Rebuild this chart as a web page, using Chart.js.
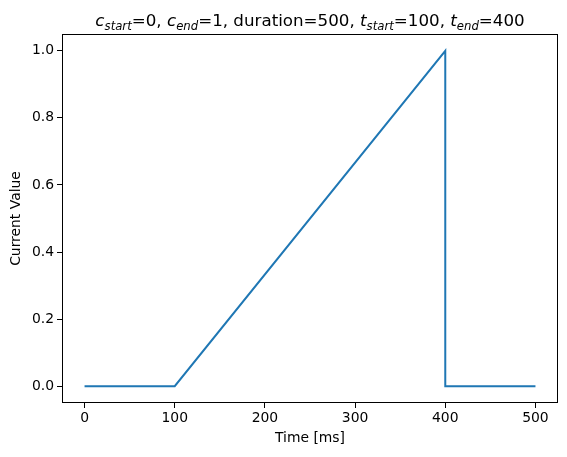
<!DOCTYPE html>
<html><head><meta charset="utf-8">
<script src="https://cdn.jsdelivr.net/npm/chart.js@4/dist/chart.umd.min.js"></script>
<style>html,body{margin:0;padding:0;background:#fff}#wrap{width:567px;height:457px}</style>
</head><body><div id="wrap"><canvas id="c" width="567" height="457"></canvas></div>
<script>
const timeValues = [0, 100, 400, 400, 500];
const currentValues = [0, 0, 1, 0, 0];
const xTicks = [0, 100, 200, 300, 400, 500];
const yTicks = [0.0, 0.2, 0.4, 0.6, 0.8, 1.0];
const titleParts = [
  ['c','i'],['start','s'],['=0, ','n'],['c','i'],['end','s'],['=1, duration=500, ','n'],
  ['t','i'],['start','s'],['=100, ','n'],['t','i'],['end','s'],['=400','n']
];
const FONT = '"DejaVu Sans", sans-serif';

const framePlugin = {
  id: 'frame',
  afterDraw(chart) {
    const {ctx, chartArea: a} = chart;
    ctx.save();
    ctx.strokeStyle = '#000'; ctx.lineWidth = 1;
    ctx.strokeRect(Math.round(a.left)+0.5, Math.round(a.top)+0.5, Math.round(a.right-a.left)-1, Math.round(a.bottom-a.top)-1);
    const big = 16.7, small = 11.7;
    const fontFor = k => k==='n' ? `${big}px ${FONT}` : (k==='i' ? `italic ${big}px ${FONT}` : `italic ${small}px ${FONT}`);
    let w = 0;
    for (const [t,k] of titleParts) { ctx.font = fontFor(k); w += ctx.measureText(t).width; }
    let x = (a.left + a.right)/2 - w/2;
    const base = 26;
    ctx.fillStyle = '#000'; ctx.textBaseline = 'alphabetic'; ctx.textAlign = 'left';
    for (const [t,k] of titleParts) {
      ctx.font = fontFor(k);
      ctx.fillText(t, x, k==='s' ? base+3.5 : base);
      x += ctx.measureText(t).width;
    }
    ctx.restore();
  }
};

new Chart(document.getElementById('c'), {
  type: 'line',
  data: { datasets: [{
    data: timeValues.map((t,i)=>({x:t, y:currentValues[i]})),
    borderColor: '#1f77b4', borderWidth: 2, pointRadius: 0, tension: 0, fill: false
  }]},
  options: {
    responsive: false, animation: false, devicePixelRatio: 1,
    layout: { padding: { top: 34, right: 9, left: 8, bottom: 10 } },
    plugins: { legend: {display:false}, tooltip: {enabled:false}, title: {display:false} },
    scales: {
      x: {
        type: 'linear', min: -25, max: 525,
        afterBuildTicks: s => { s.ticks = xTicks.map(v=>({value:v})); },
        afterFit: s => { s.height = 44; },
        grid: { drawOnChartArea: false, drawTicks: true, tickLength: 5, color: '#000' },
        border: { display: false },
        ticks: { color: '#000', font: { family: FONT, size: 13.9 }, padding: 2, maxRotation: 0,
                 callback: v => String(v) },
        title: { display: true, text: 'Time [ms]', color: '#000', font: { family: FONT, size: 13.9 }, padding: {top: 2, bottom: 0} }
      },
      y: {
        type: 'linear', min: -0.05, max: 1.05,
        afterBuildTicks: s => { s.ticks = yTicks.map(v=>({value:v})); },
        afterFit: s => { s.width = 54; },
        grid: { drawOnChartArea: false, drawTicks: true, tickLength: 5, color: '#000' },
        border: { display: false },
        ticks: { color: '#000', font: { family: FONT, size: 13.9 }, padding: 3,
                 callback: v => Number(v).toFixed(1) },
        title: { display: true, text: 'Current Value', color: '#000', font: { family: FONT, size: 13.9 }, padding: {top: 0, bottom: 4} }
      }
    }
  },
  plugins: [framePlugin]
});
</script></body></html>
